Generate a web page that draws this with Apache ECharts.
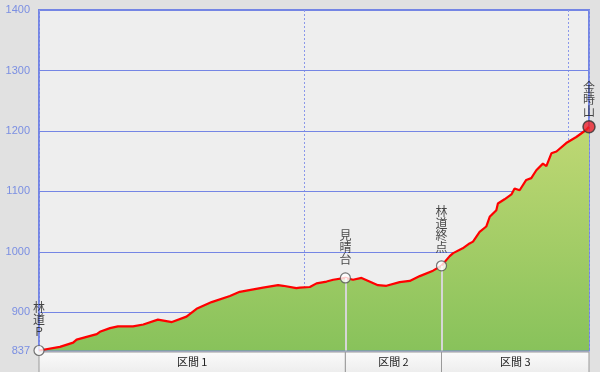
<!DOCTYPE html>
<html>
<head>
<meta charset="utf-8">
<script src="https://cdn.jsdelivr.net/npm/echarts@6/dist/echarts.min.js"></script>
<style>html,body{margin:0;padding:0;background:#e1e1e1;}#c{width:600px;height:372px;}</style>
</head>
<body>
<div id="c"></div>
<script>
// Distance along the trail (km) and elevation (m)
const distances = [0, 0.079, 0.129, 0.142, 0.218, 0.230, 0.268, 0.298, 0.355, 0.394, 0.449, 0.502, 0.557, 0.595, 0.652, 0.721, 0.758, 0.846, 0.903, 0.922, 0.972, 0.985, 1.023, 1.048, 1.086, 1.111, 1.157, 1.186, 1.218, 1.280, 1.312, 1.362, 1.400, 1.438, 1.488, 1.520, 1.551, 1.564, 1.600, 1.626, 1.639, 1.664, 1.689, 1.702, 1.727, 1.733, 1.758, 1.784, 1.796, 1.815, 1.840, 1.859, 1.878, 1.903, 1.916, 1.935, 1.954, 1.991, 2.029, 2.067, 2.077];
const elevations = [837, 843, 850, 855, 864, 868, 874, 877, 877, 880, 888, 884, 893, 906, 917, 927, 934, 941, 945, 944, 940, 941, 942, 948, 951, 954, 957, 954, 957, 945, 944, 950, 952, 960, 969, 977, 993, 998, 1006, 1014, 1017, 1033, 1042, 1058, 1069, 1080, 1087, 1095, 1105, 1102, 1119, 1122, 1135, 1146, 1142, 1163, 1166, 1180, 1190, 1202, 1207];

const waypointNames = ['林道P', '見晴台', '林道終点', '金時山'];
const waypointDist = [0, 1.157, 1.520, 2.077];
const waypointElev = [837, 957, 977, 1207];

const sectionNames = ['区間 1', '区間 2', '区間 3'];
const sectionStart = [0, 1.157, 1.520];
const sectionEnd = [1.157, 1.520, 2.077];

const yTickLabels = [837, 900, 1000, 1100, 1200, 1300, 1400];
const gridLineValues = [900, 1000, 1100, 1200, 1300];

const Y_MIN = 837, Y_MAX = 1400, X_MAX = 2.077;
const BLUE = '#7485e4';

const chart = echarts.init(document.getElementById('c'), null, {renderer: 'canvas'});

const profile = distances.map((d, i) => [d, elevations[i]]);
const waypoints = waypointNames.map((n, i) => ({
  name: n,
  value: [waypointDist[i], waypointElev[i]],
  symbolSize: i === waypointNames.length - 1 ? 12 : 10,
  itemStyle: i === waypointNames.length - 1
    ? {color: '#e8202a', borderColor: '#333', borderWidth: 1.5}
    : {color: '#ffffff', borderColor: '#555', borderWidth: 1.2},
  label: {distance: i === waypointNames.length - 1 ? 3 : 7}
}));
const dropLines = waypointNames.map((n, i) => [
  {coord: [waypointDist[i], waypointElev[i]]},
  {coord: [waypointDist[i], Y_MIN]}
]).slice(1, 3);
const sections = sectionNames.map((n, i) => [sectionStart[i], sectionEnd[i], n]);

chart.setOption({
  backgroundColor: '#e1e1e1',
  animation: false,
  grid: [
    {left: 39, right: 11, top: 10, height: 340.5, show: true, backgroundColor: '#eeeeee', borderColor: BLUE, borderWidth: 2,
     containLabel: false, outerBoundsMode: 'none'},
    {left: 39, right: 11, top: 352, height: 22, containLabel: false, outerBoundsMode: 'none'}
  ],
  xAxis: [
    {type: 'value', gridIndex: 0, min: 0, max: X_MAX, interval: 1,
     axisLine: {show: false}, axisTick: {show: false}, axisLabel: {show: false},
     splitLine: {show: true, lineStyle: {color: '#8a98ea', type: [2, 2], width: 1}}},
    {type: 'value', gridIndex: 1, min: 0, max: X_MAX, show: false}
  ],
  yAxis: [
    {type: 'value', gridIndex: 0, min: Y_MIN, max: Y_MAX,
     axisLine: {show: false}, axisTick: {show: false}, splitLine: {show: false},
     axisLabel: {customValues: yTickLabels, formatter: v => String(v), color: '#7b8fe2', fontSize: 11, fontFamily: 'Liberation Sans', margin: 9,
                 showMinLabel: true, showMaxLabel: true, hideOverlap: false}},
    {type: 'value', gridIndex: 1, min: 0, max: 1, show: false}
  ],
  series: [
    {
      type: 'line', xAxisIndex: 0, yAxisIndex: 0, data: profile, showSymbol: false, smooth: false,
      lineStyle: {color: '#ff0000', width: 2.2},
      areaStyle: {opacity: 1, color: new echarts.graphic.LinearGradient(0, 0, 0, 1, [
        {offset: 0, color: '#bfd874'}, {offset: 0.55, color: '#a2cc66'}, {offset: 1, color: '#88c25b'}])},
      markLine: {
        silent: true, symbol: 'none', label: {show: false}, z: 1,
        lineStyle: {color: BLUE, type: 'solid', width: 1},
        data: gridLineValues.map(v => ({yAxis: v}))
      },
      z: 3
    },
    {
      type: 'scatter', xAxisIndex: 0, yAxisIndex: 0, data: waypoints, symbol: 'circle', clip: false, z: 5,
      label: {
        show: true, position: 'top', color: '#1a1a1a', fontSize: 12, lineHeight: 12,
        fontFamily: 'Noto Sans CJK JP',
        formatter: p => p.name.split('').join('\n')
      },
      markLine: {
        silent: true, symbol: 'none', label: {show: false},
        lineStyle: {color: '#d6d6d6', type: 'solid', width: 2},
        data: dropLines
      }
    },
    {
      type: 'custom', xAxisIndex: 1, yAxisIndex: 1, data: sections, clip: false,
      renderItem: (params, api) => {
        const p0 = api.coord([api.value(0), 1]);
        const p1 = api.coord([api.value(1), 0]);
        return {
          type: 'group',
          children: [
            {type: 'rect', shape: {x: p0[0], y: p0[1], width: p1[0] - p0[0], height: p1[1] - p0[1]},
             style: {fill: new echarts.graphic.LinearGradient(0, 0, 0, 1, [{offset: 0, color: '#fbfbfb'}, {offset: 1, color: '#ececec'}]),
                     stroke: '#9a9a9a', lineWidth: 1}},
            {type: 'text', style: {text: sections[params.dataIndex][2], x: (p0[0] + p1[0]) / 2, y: p0[1] + 10,
             align: 'center', verticalAlign: 'middle', fill: '#222', fontSize: 11, fontFamily: 'Noto Sans CJK JP'}}
          ]
        };
      }
    }
  ]
});
</script>
</body>
</html>
